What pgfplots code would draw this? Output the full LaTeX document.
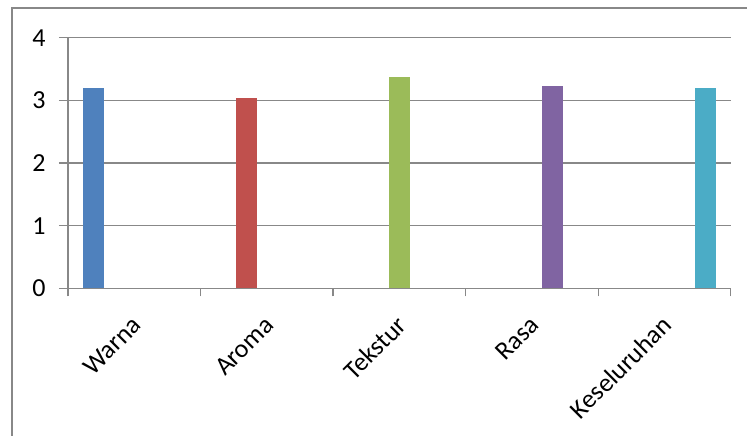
\documentclass[border=0pt]{standalone}
\usepackage{fontspec}
\setmainfont{Carlito}
\usepackage{pgfplots}
\pgfplotsset{compat=1.18}
\definecolor{c1}{HTML}{4F81BD}
\definecolor{c2}{HTML}{C0504D}
\definecolor{c3}{HTML}{9BBB59}
\definecolor{c4}{HTML}{8064A2}
\definecolor{c5}{HTML}{4BACC6}
\definecolor{gridc}{HTML}{888888}
\begin{document}
\begin{tikzpicture}[x=1pt,y=1pt]
\useasboundingbox (0,0) rectangle (747,436);
\draw[gridc, line width=1.5pt] (12,-30) rectangle (780,428);
\begin{axis}[
  at={(68pt,147.5pt)}, anchor=south west,
  scale only axis, width=662.7pt, height=250.8pt,
  xmin=-0.5, xmax=4.5, ymin=0, ymax=4,
  axis lines*=left,
  axis line style={gridc, line width=1.2pt},
  ymajorgrids, grid style={gridc, line width=1.2pt},
  tick align=outside,
  ytick={0,1,2,3,4},
  ytick style={gridc, line width=1.2pt},
  major tick length=9pt,
  xtick={0,1,2,3,4},
  xticklabels={Warna,Aroma,Tekstur,Rasa,Keseluruhan},
  major x tick style={draw=none},
  minor xtick={-0.5,0.5,1.5,2.5,3.5,4.5},
  minor x tick style={gridc, line width=1.2pt},
  minor tick length=8pt,
  /pgf/number format/assume math mode=true,
  tick label style={font=\fontsize{26}{31}\selectfont},
  yticklabel style={xshift=-10pt},
  xticklabel style={yshift=-21pt, xshift=5pt, rotate=45, anchor=east},
]
\addplot[ybar, fill=c1, draw=none, bar width=0.1547] coordinates {(-0.3094,3.19)};
\addplot[ybar, fill=c2, draw=none, bar width=0.1547] coordinates {(0.8453,3.04)};
\addplot[ybar, fill=c3, draw=none, bar width=0.1547] coordinates {(2,3.37)};
\addplot[ybar, fill=c4, draw=none, bar width=0.1547] coordinates {(3.1547,3.23)};
\addplot[ybar, fill=c5, draw=none, bar width=0.1547] coordinates {(4.3094,3.20)};
\end{axis}
\end{tikzpicture}
\end{document}
